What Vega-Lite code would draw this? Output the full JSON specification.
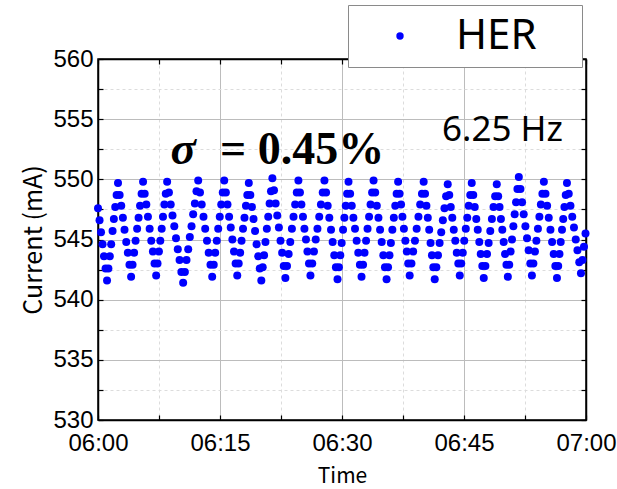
{
  "$schema": "https://vega.github.io/schema/vega-lite/v6.json",
  "width": 488,
  "height": 361,
  "autosize": {"type": "none"},
  "padding": {"left": 98, "top": 59, "right": 31, "bottom": 69},
  "background": "white",
  "config": {
    "view": {"stroke": "black", "strokeWidth": 1.5},
    "axis": {
      "domainColor": "black",
      "domainWidth": 1.5,
      "tickColor": "black",
      "tickWidth": 1.2,
      "labelFont": "Liberation Sans",
      "labelFontSize": 24,
      "labelColor": "black",
      "titleFont": "Noto Sans CJK JP",
      "titleFontWeight": "normal",
      "titleColor": "black",
      "labelOverlap": false,
      "labelFlush": false
    }
  },
  "datasets": {
    "her": [
      {"m":0.00,"c":547.6},{"m":0.19,"c":546.6},{"m":0.37,"c":545.6},{"m":0.56,"c":544.6},{"m":0.74,"c":543.6},{"m":0.93,"c":542.6},{"m":1.11,"c":541.6},
      {"m":1.28,"c":542.6},{"m":1.45,"c":543.6},{"m":1.62,"c":544.6},{"m":1.79,"c":545.7},{"m":1.95,"c":546.7},{"m":2.12,"c":547.7},{"m":2.29,"c":548.7},{"m":2.46,"c":549.7},
      {"m":2.66,"c":548.7},{"m":2.86,"c":547.8},{"m":3.06,"c":546.8},{"m":3.26,"c":545.8},{"m":3.47,"c":544.8},{"m":3.67,"c":543.9},{"m":3.87,"c":542.9},{"m":4.07,"c":541.9},
      {"m":4.25,"c":542.9},{"m":4.44,"c":543.9},{"m":4.62,"c":544.9},{"m":4.81,"c":545.9},{"m":4.99,"c":546.8},{"m":5.17,"c":547.8},{"m":5.36,"c":548.8},{"m":5.54,"c":549.8},
      {"m":5.74,"c":548.8},{"m":5.94,"c":547.9},{"m":6.14,"c":546.9},{"m":6.35,"c":545.9},{"m":6.55,"c":544.9},{"m":6.75,"c":544.0},{"m":6.95,"c":543.0},{"m":7.15,"c":542.0},
      {"m":7.32,"c":543.0},{"m":7.49,"c":544.0},{"m":7.66,"c":544.9},{"m":7.83,"c":545.9},{"m":7.99,"c":546.9},{"m":8.16,"c":547.9},{"m":8.33,"c":548.8},{"m":8.50,"c":549.8},
      {"m":8.72,"c":548.9},{"m":8.94,"c":547.9},{"m":9.16,"c":547.0},{"m":9.38,"c":546.1},{"m":9.59,"c":545.1},{"m":9.81,"c":544.2},{"m":10.03,"c":543.3},{"m":10.25,"c":542.3},{"m":10.47,"c":541.4},
      {"m":10.68,"c":542.3},{"m":10.88,"c":543.3},{"m":11.09,"c":544.2},{"m":11.29,"c":545.2},{"m":11.50,"c":546.1},{"m":11.70,"c":547.1},{"m":11.91,"c":548.0},{"m":12.11,"c":549.0},{"m":12.32,"c":549.9},
      {"m":12.54,"c":548.9},{"m":12.75,"c":547.9},{"m":12.97,"c":546.9},{"m":13.18,"c":545.9},{"m":13.40,"c":544.9},{"m":13.61,"c":543.9},{"m":13.83,"c":542.9},{"m":14.04,"c":541.9},
      {"m":14.23,"c":542.9},{"m":14.41,"c":543.9},{"m":14.60,"c":544.9},{"m":14.78,"c":545.9},{"m":14.97,"c":546.9},{"m":15.15,"c":547.9},{"m":15.34,"c":548.9},{"m":15.52,"c":549.9},
      {"m":15.72,"c":548.9},{"m":15.92,"c":547.9},{"m":16.12,"c":546.9},{"m":16.32,"c":546.0},{"m":16.52,"c":545.0},{"m":16.72,"c":544.0},{"m":16.92,"c":543.0},{"m":17.12,"c":542.0},
      {"m":17.30,"c":543.0},{"m":17.48,"c":543.9},{"m":17.65,"c":544.9},{"m":17.83,"c":545.9},{"m":18.01,"c":546.8},{"m":18.19,"c":547.8},{"m":18.36,"c":548.7},{"m":18.54,"c":549.7},
      {"m":18.73,"c":548.7},{"m":18.93,"c":547.7},{"m":19.12,"c":546.7},{"m":19.31,"c":545.7},{"m":19.50,"c":544.6},{"m":19.70,"c":543.6},{"m":19.89,"c":542.6},{"m":20.08,"c":541.6},
      {"m":20.25,"c":542.7},{"m":20.42,"c":543.7},{"m":20.59,"c":544.8},{"m":20.76,"c":545.9},{"m":20.93,"c":546.9},{"m":21.10,"c":548.0},{"m":21.27,"c":549.0},{"m":21.44,"c":550.1},
      {"m":21.64,"c":549.1},{"m":21.84,"c":548.0},{"m":22.04,"c":547.0},{"m":22.24,"c":546.0},{"m":22.44,"c":544.9},{"m":22.64,"c":543.9},{"m":22.84,"c":542.8},{"m":23.04,"c":541.8},
      {"m":23.24,"c":542.8},{"m":23.44,"c":543.8},{"m":23.64,"c":544.8},{"m":23.84,"c":545.9},{"m":24.04,"c":546.9},{"m":24.24,"c":547.9},{"m":24.44,"c":548.9},{"m":24.64,"c":549.9},
      {"m":24.83,"c":548.9},{"m":25.01,"c":547.9},{"m":25.20,"c":546.9},{"m":25.38,"c":545.9},{"m":25.57,"c":545.0},{"m":25.75,"c":544.0},{"m":25.94,"c":543.0},{"m":26.12,"c":542.0},
      {"m":26.34,"c":543.0},{"m":26.55,"c":544.0},{"m":26.77,"c":545.0},{"m":26.98,"c":545.9},{"m":27.20,"c":546.9},{"m":27.41,"c":547.9},{"m":27.63,"c":548.9},{"m":27.84,"c":549.9},
      {"m":28.04,"c":548.9},{"m":28.24,"c":547.8},{"m":28.44,"c":546.8},{"m":28.65,"c":545.8},{"m":28.85,"c":544.8},{"m":29.05,"c":543.7},{"m":29.25,"c":542.7},{"m":29.45,"c":541.7},
      {"m":29.62,"c":542.7},{"m":29.79,"c":543.7},{"m":29.96,"c":544.7},{"m":30.13,"c":545.8},{"m":30.29,"c":546.8},{"m":30.46,"c":547.8},{"m":30.63,"c":548.8},{"m":30.80,"c":549.8},
      {"m":31.00,"c":548.8},{"m":31.20,"c":547.8},{"m":31.40,"c":546.8},{"m":31.60,"c":545.9},{"m":31.80,"c":544.9},{"m":32.00,"c":543.9},{"m":32.20,"c":542.9},{"m":32.40,"c":541.9},
      {"m":32.59,"c":542.9},{"m":32.77,"c":543.9},{"m":32.96,"c":544.9},{"m":33.14,"c":545.9},{"m":33.33,"c":546.9},{"m":33.51,"c":547.9},{"m":33.70,"c":548.9},{"m":33.88,"c":549.9},
      {"m":34.08,"c":548.9},{"m":34.28,"c":547.8},{"m":34.48,"c":546.8},{"m":34.68,"c":545.8},{"m":34.88,"c":544.8},{"m":35.08,"c":543.7},{"m":35.28,"c":542.7},{"m":35.48,"c":541.7},
      {"m":35.66,"c":542.7},{"m":35.84,"c":543.7},{"m":36.01,"c":544.7},{"m":36.19,"c":545.8},{"m":36.37,"c":546.8},{"m":36.55,"c":547.8},{"m":36.72,"c":548.8},{"m":36.90,"c":549.8},
      {"m":37.08,"c":548.8},{"m":37.26,"c":547.9},{"m":37.43,"c":546.9},{"m":37.61,"c":545.9},{"m":37.79,"c":544.9},{"m":37.97,"c":544.0},{"m":38.14,"c":543.0},{"m":38.32,"c":542.0},
      {"m":38.54,"c":543.0},{"m":38.75,"c":544.0},{"m":38.97,"c":544.9},{"m":39.18,"c":545.9},{"m":39.40,"c":546.9},{"m":39.61,"c":547.9},{"m":39.83,"c":548.8},{"m":40.04,"c":549.8},
      {"m":40.21,"c":548.8},{"m":40.38,"c":547.8},{"m":40.55,"c":546.8},{"m":40.72,"c":545.8},{"m":40.89,"c":544.7},{"m":41.06,"c":543.7},{"m":41.23,"c":542.7},{"m":41.40,"c":541.7},
      {"m":41.60,"c":542.7},{"m":41.80,"c":543.7},{"m":42.00,"c":544.7},{"m":42.20,"c":545.6},{"m":42.40,"c":546.6},{"m":42.60,"c":547.6},{"m":42.80,"c":548.6},{"m":43.00,"c":549.6},
      {"m":43.19,"c":548.7},{"m":43.37,"c":547.7},{"m":43.56,"c":546.8},{"m":43.74,"c":545.8},{"m":43.93,"c":544.9},{"m":44.11,"c":543.9},{"m":44.30,"c":543.0},{"m":44.48,"c":542.0},
      {"m":44.66,"c":543.0},{"m":44.85,"c":543.9},{"m":45.03,"c":544.9},{"m":45.22,"c":545.9},{"m":45.40,"c":546.8},{"m":45.58,"c":547.8},{"m":45.77,"c":548.7},{"m":45.95,"c":549.7},
      {"m":46.14,"c":548.7},{"m":46.32,"c":547.7},{"m":46.51,"c":546.7},{"m":46.69,"c":545.8},{"m":46.88,"c":544.8},{"m":47.06,"c":543.8},{"m":47.25,"c":542.8},{"m":47.43,"c":541.8},
      {"m":47.63,"c":542.8},{"m":47.83,"c":543.8},{"m":48.03,"c":544.7},{"m":48.23,"c":545.7},{"m":48.43,"c":546.7},{"m":48.63,"c":547.7},{"m":48.83,"c":548.6},{"m":49.03,"c":549.6},
      {"m":49.20,"c":548.6},{"m":49.37,"c":547.7},{"m":49.54,"c":546.7},{"m":49.71,"c":545.8},{"m":49.88,"c":544.8},{"m":50.05,"c":543.8},{"m":50.22,"c":542.9},{"m":50.39,"c":541.9},
      {"m":50.56,"c":542.9},{"m":50.73,"c":544.0},{"m":50.90,"c":545.0},{"m":51.07,"c":546.1},{"m":51.23,"c":547.1},{"m":51.40,"c":548.1},{"m":51.57,"c":549.2},{"m":51.74,"c":550.2},
      {"m":51.94,"c":549.2},{"m":52.14,"c":548.1},{"m":52.34,"c":547.1},{"m":52.55,"c":546.1},{"m":52.75,"c":545.1},{"m":52.95,"c":544.1},{"m":53.15,"c":543.0},{"m":53.35,"c":542.0},
      {"m":53.53,"c":543.0},{"m":53.72,"c":544.0},{"m":53.90,"c":544.9},{"m":54.09,"c":545.9},{"m":54.27,"c":546.9},{"m":54.45,"c":547.9},{"m":54.64,"c":548.8},{"m":54.82,"c":549.8},
      {"m":55.02,"c":548.8},{"m":55.22,"c":547.8},{"m":55.42,"c":546.8},{"m":55.63,"c":545.8},{"m":55.83,"c":544.8},{"m":56.03,"c":543.8},{"m":56.23,"c":542.8},{"m":56.43,"c":541.8},
      {"m":56.58,"c":542.8},{"m":56.74,"c":543.8},{"m":56.89,"c":544.8},{"m":57.05,"c":545.8},{"m":57.20,"c":546.7},{"m":57.35,"c":547.7},{"m":57.51,"c":548.7},{"m":57.66,"c":549.7},
      {"m":57.88,"c":548.8},{"m":58.09,"c":547.8},{"m":58.31,"c":546.9},{"m":58.52,"c":546.0},{"m":58.74,"c":545.0},{"m":58.95,"c":544.1},{"m":59.17,"c":543.1},{"m":59.38,"c":542.2},
      {"m":59.57,"c":543.3},{"m":59.75,"c":544.4},{"m":59.94,"c":545.5}
    ]
  },
  "layer": [
    {
      "data": {"name": "her"},
      "mark": {"type": "circle", "size": 64, "opacity": 1},
      "encoding": {
        "x": {
          "field": "m", "type": "quantitative",
          "scale": {"domain": [0, 60], "nice": false, "zero": false},
          "axis": {
            "orient": "bottom",
            "values": [0, 7.5, 15, 22.5, 30, 37.5, 45, 52.5, 60],
            "labelExpr": "datum.value % 15 == 0 ? (datum.value == 60 ? '07:00' : '06:' + (datum.value < 10 ? '0' : '') + datum.value) : ''",
            "grid": true,
            "gridColor": {"condition": {"test": "datum.value % 15 == 0", "value": "#bcbcbc"}, "value": "#dcdcdc"},
            "gridDash": {"condition": {"test": "datum.value % 15 == 0", "value": []}, "value": [3, 3]},
            "gridWidth": 1,
            "tickSize": -5,
            "labelPadding": 16,
            "title": "Time",
            "titleFontSize": 21,
            "titlePadding": 10
          }
        },
        "y": {
          "field": "c", "type": "quantitative",
          "scale": {"domain": [530, 560], "nice": false, "zero": false},
          "axis": {
            "orient": "left",
            "values": [530, 532.5, 535, 537.5, 540, 542.5, 545, 547.5, 550, 552.5, 555, 557.5, 560],
            "labelExpr": "datum.value % 5 == 0 ? datum.label : ''",
            "grid": true,
            "gridColor": {"condition": {"test": "datum.value % 5 == 0", "value": "#bcbcbc"}, "value": "#dcdcdc"},
            "gridDash": {"condition": {"test": "datum.value % 5 == 0", "value": []}, "value": [3, 3]},
            "gridWidth": 1,
            "tickSize": -5,
            "labelPadding": 10,
            "title": "Current (mA)",
            "titleFontSize": 25,
            "titlePadding": 6
          }
        },
        "color": {
          "datum": "HER",
          "type": "nominal",
          "scale": {"range": ["#0000ff"]},
          "legend": {
            "orient": "none",
            "legendX": 250,
            "legendY": -54,
            "title": "\u00a0",
            "titleOrient": "right",
            "titlePadding": 35,
            "titleFontSize": 10,
            "fillColor": "white",
            "strokeColor": "#8a8a8a",
            "padding": 10,
            "symbolType": "circle",
            "symbolSize": 55,
            "symbolOffset": 21,
            "labelOffset": 35,
            "labelFont": "Noto Sans",
            "labelFontSize": 42,
            "labelColor": "black"
          }
        }
      }
    },
    {
      "data": {"values": [{}]},
      "mark": {"type": "text", "text": "σ", "font": "Liberation Serif", "fontSize": 47, "fontWeight": "bold", "fontStyle": "italic", "align": "left", "baseline": "alphabetic", "color": "black"},
      "encoding": {
        "x": {"datum": 8.9, "type": "quantitative", "axis": {"orient": "top", "values": [0, 7.5, 15, 22.5, 30, 37.5, 45, 52.5, 60], "labels": false, "title": null, "grid": false, "tickSize": -5}},
        "y": {"datum": 551.3, "type": "quantitative", "axis": {"orient": "right", "values": [530, 532.5, 535, 537.5, 540, 542.5, 545, 547.5, 550, 552.5, 555, 557.5, 560], "labels": false, "title": null, "grid": false, "tickSize": -5}}
      }
    },
    {
      "data": {"values": [{}]},
      "mark": {"type": "text", "text": "= 0.45%", "font": "Liberation Serif", "fontSize": 46, "fontWeight": "bold", "align": "left", "baseline": "alphabetic", "color": "black"},
      "encoding": {
        "x": {"datum": 15.0, "type": "quantitative", "axis": null},
        "y": {"datum": 551.3, "type": "quantitative", "axis": null}
      }
    },
    {
      "data": {"values": [{}]},
      "mark": {"type": "text", "text": "6.25 Hz", "font": "Noto Sans", "fontSize": 35, "align": "left", "baseline": "alphabetic", "color": "black"},
      "encoding": {
        "x": {"datum": 42.3, "type": "quantitative", "axis": null},
        "y": {"datum": 553.2, "type": "quantitative", "axis": null}
      }
    }
  ],
  "resolve": {"axis": {"x": "independent", "y": "independent"}}
}
